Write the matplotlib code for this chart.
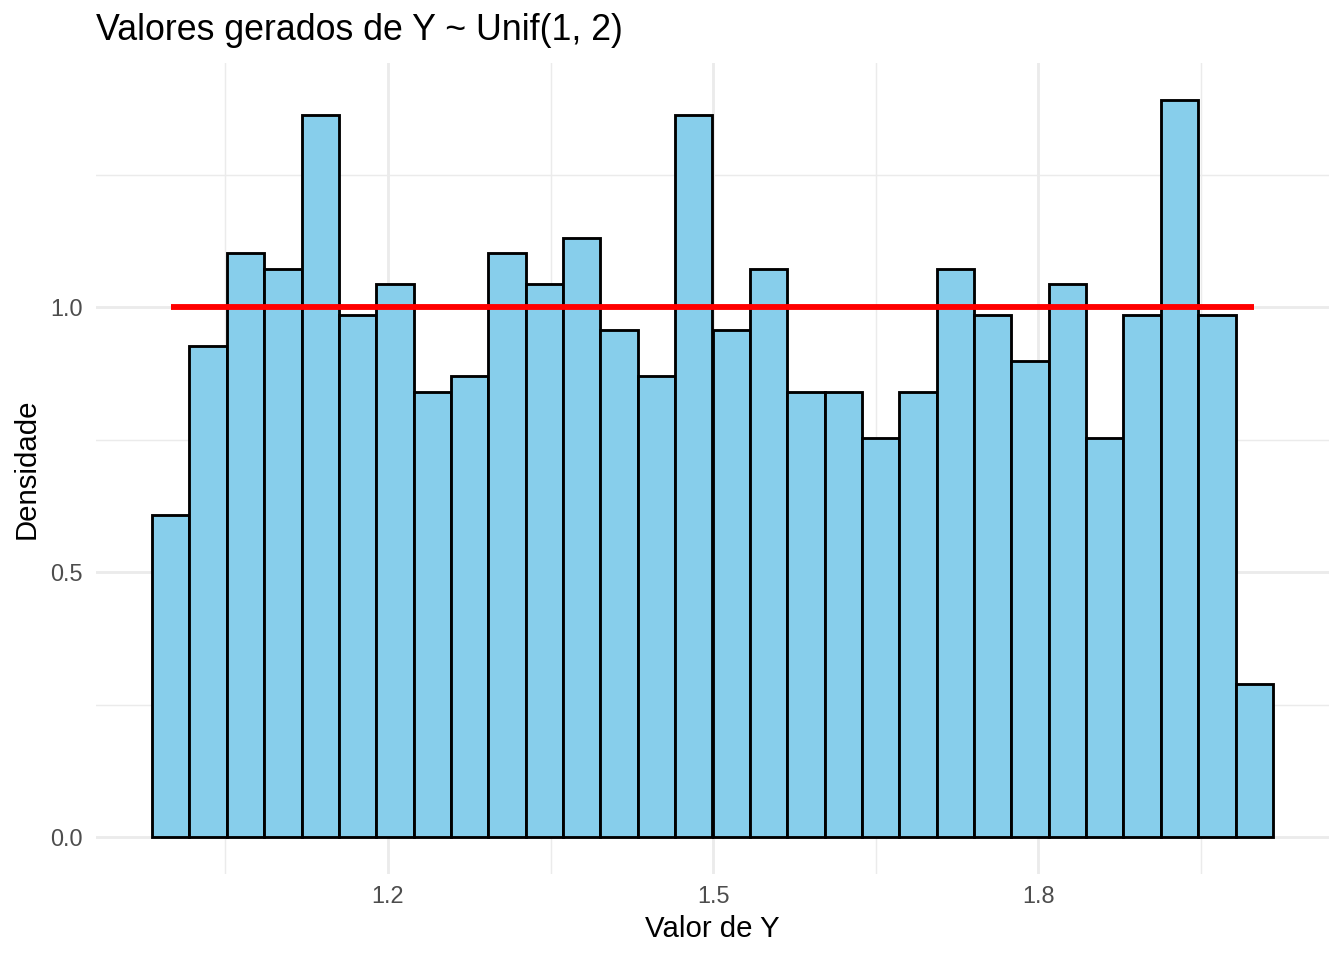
import numpy as np
import matplotlib
matplotlib.use("Agg")
import matplotlib.pyplot as plt
from matplotlib.ticker import FixedLocator

# Data: histogram counts (n = 1000, 30 bins over data range ~[1, 2])
counts = [21, 32, 38, 37, 47, 34, 36, 29, 30, 38, 36, 39, 33, 30, 47,
          33, 37, 29, 29, 26, 29, 37, 34, 31, 36, 26, 34, 48, 34, 10]
n_total = 1000
data_min = 0.9995
data_max = 1.9995
unif_density = 1.0

title = "Valores gerados de Y ~ Unif(1, 2)"
xlabel = "Valor de Y"
ylabel = "Densidade"
x_major = [1.2, 1.5, 1.8]
x_major_labels = ["1.2", "1.5", "1.8"]
x_minor = [1.05, 1.35, 1.65, 1.95]
y_major = [0.0, 0.5, 1.0]
y_major_labels = ["0.0", "0.5", "1.0"]
y_minor = [0.25, 0.75, 1.25]

nb = len(counts)
width = (data_max - data_min) / (nb - 1)
edges = data_min - width / 2 + width * np.arange(nb + 1)
dens = np.array(counts) / (n_total * width)

plt.rcParams['font.family'] = ['Liberation Sans', 'DejaVu Sans']

W, H = 1344, 960
fig = plt.figure(figsize=(7, 5), dpi=192)
L, R, T, B = 96, 1329, 63, 874
ax = fig.add_axes([L / W, 1 - B / H, (R - L) / W, (B - T) / H])

ax.bar(edges[:-1], dens, width=width, align='edge', color='#87CEEB',
       edgecolor='black', linewidth=1.07, zorder=2)
ax.plot([data_min, data_max], [unif_density, unif_density], color='red',
        linewidth=2.2, zorder=3, solid_capstyle='butt')

xr = edges[-1] - edges[0]
ax.set_xlim(edges[0] - 0.05 * xr, edges[-1] + 0.05 * xr)
ymax = dens.max()
ax.set_ylim(-0.05 * ymax, ymax * 1.05)

ax.xaxis.set_major_locator(FixedLocator(x_major))
ax.set_xticklabels(x_major_labels)
ax.xaxis.set_minor_locator(FixedLocator(x_minor))
ax.yaxis.set_major_locator(FixedLocator(y_major))
ax.set_yticklabels(y_major_labels)
ax.yaxis.set_minor_locator(FixedLocator(y_minor))

ax.grid(which='major', color='#EBEBEB', linewidth=1.07, zorder=0)
ax.grid(which='minor', color='#EBEBEB', linewidth=0.53, zorder=0)
ax.set_axisbelow(True)
for s in ax.spines.values():
    s.set_visible(False)
ax.tick_params(which='both', length=0, labelsize=8.8, labelcolor='#4D4D4D')
ax.tick_params(axis='x', pad=4.3)
ax.tick_params(axis='y', pad=4.9)

fig.text(L / W, 1 - 40 / H, title, fontsize=13.4, ha='left', va='baseline')
fig.text((L + R) / 2 / W, 1 - 929 / H, xlabel, fontsize=11, ha='center', va='center')
fig.text(27 / W, 1 - (T + B) / 2 / H, ylabel, fontsize=11, ha='center', va='center', rotation=90)

fig.savefig('out.png', dpi=192, facecolor='white')
